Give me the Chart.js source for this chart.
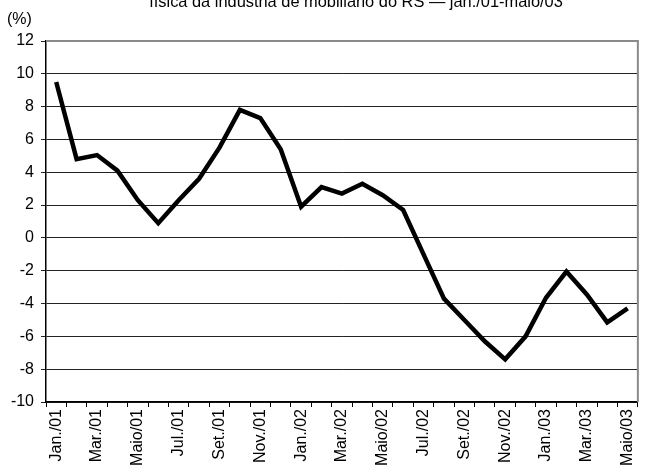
<!DOCTYPE html>
<html>
<head>
<meta charset="utf-8">
<script src="https://cdn.jsdelivr.net/npm/chart.js@4"></script>
<style>
  body { margin: 0; background: #fff; overflow: hidden; }
  #wrap { position: relative; width: 649px; height: 473px; }
  #titulo { position: absolute; left: 0; width: 712px; top: -8px; text-align: center;
            font: 16.4px "Liberation Sans", Arial, sans-serif; color: #000; white-space: nowrap; }
  #unid { position: absolute; left: 7px; top: 10px; font: 16px "Liberation Sans", Arial, sans-serif; }
</style>
</head>
<body>
<div id="wrap">
  <div id="titulo">física da indústria de mobiliário do RS — jan./01-maio/03</div>
  <div id="unid">(%)</div>
  <canvas id="myChart" width="649" height="473"></canvas>
</div>
<script>
// meses jan./01 - maio/03
var meses = ['Jan./01','Fev./01','Mar./01','Abr./01','Maio/01','Jun./01','Jul./01','Ago./01','Set./01','Out./01','Nov./01','Dez./01',
             'Jan./02','Fev./02','Mar./02','Abr./02','Maio/02','Jun./02','Jul./02','Ago./02','Set./02','Out./02','Nov./02','Dez./02',
             'Jan./03','Fev./03','Mar./03','Abr./03','Maio/03'];
// variação (%)
var valores = [9.5, 4.8, 5.05, 4.1, 2.3, 0.9, 2.3, 3.6, 5.5, 7.8, 7.3, 5.4,
               1.9, 3.1, 2.7, 3.3, 2.6, 1.7, -1.0, -3.7, -5.0, -6.3, -7.4, -6.0,
               -3.65, -2.05, -3.45, -5.15, -4.3];
var yMin = -10, yMax = 12, yPasso = 2;

var fonte = { family: '"Liberation Sans", Arial, sans-serif', size: 16 };

// borda cinza em cima e à direita
var borda = {
    id: 'borda',
    afterDraw: function(chart) {
        var a = chart.chartArea, c = chart.ctx;
        c.save();
        c.strokeStyle = '#8a8a8a';
        c.lineWidth = 2;
        c.beginPath();
        c.moveTo(a.left, a.top);
        c.lineTo(a.right, a.top);
        c.lineTo(a.right, a.bottom);
        c.stroke();
        c.restore();
    }
};

var ctx = document.getElementById('myChart').getContext('2d');
var chart = new Chart(ctx, {
    type: 'line',
    data: {
        labels: meses,
        datasets: [{
            data: valores,
            borderColor: '#000',
            borderWidth: 4.5,
            pointRadius: 0,
            tension: 0,
            fill: false
        }]
    },
    options: {
        responsive: false,
        animation: false,
        layout: { padding: { top: 41, right: 9, left: 0, bottom: 0 } },
        plugins: { legend: { display: false }, title: { display: false }, tooltip: { enabled: false } },
        scales: {
            x: {
                offset: true,
                afterFit: function(s) { s.height = 71; },
                grid: { offset: true, drawOnChartArea: false, color: '#000', tickLength: 5 },
                border: { color: '#000', width: 1.5 },
                ticks: {
                    autoSkip: false, maxRotation: 90, minRotation: 90,
                    color: '#000', font: fonte, padding: 2,
                    callback: function(v, i) { return i % 2 === 0 ? meses[i] : ''; }
                }
            },
            y: {
                min: yMin, max: yMax,
                afterFit: function(s) { s.width = 46; },
                grid: { color: '#222', tickLength: 5 },
                border: { color: '#000', width: 1.5 },
                ticks: { stepSize: yPasso, color: '#000', font: fonte, padding: 7 }
            }
        }
    },
    plugins: [borda]
});
</script>
</body>
</html>
